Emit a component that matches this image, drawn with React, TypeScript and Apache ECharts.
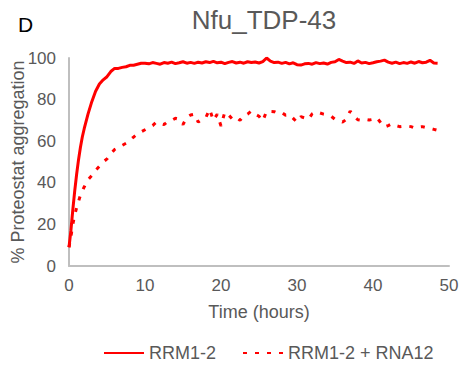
import React, { useEffect, useRef } from "react";
import * as echarts from "echarts";

const seriesNames = ["RRM1-2", "RRM1-2 + RNA12"];

const timeEarly = [0, 0.25, 0.5, 0.75, 1, 1.25, 1.5, 1.75, 2, 2.5, 3, 3.5, 4, 4.5, 5, 5.5, 6, 6.5, 7, 7.5, 8, 8.5, 9, 9.5];
const solidEarly = [9, 17, 27, 36, 44, 51, 57, 62, 66, 73, 79, 84, 87.5, 89.5, 91, 93.5, 95, 95, 95.5, 95.8, 96.5, 96.5, 97, 97.5];
const dashedEarly = [9, 14, 20, 24.5, 28, 31, 34, 36, 38, 41.5, 43.5, 46, 48, 50, 51.5, 54, 56, 57, 58, 59, 60.5, 62, 63.5, 64.5];

const timeLate = [10, 10.5, 11, 11.5, 12, 12.5, 13, 13.5, 14, 14.5, 15, 15.5, 16, 16.5, 17, 17.5, 18, 18.5, 19, 19.5, 20, 20.5, 21, 21.5, 22, 22.5, 23, 23.5, 24, 24.5, 25, 25.5, 26, 26.5, 27, 27.5, 28, 28.5, 29, 29.5, 30, 30.5, 31, 31.5, 32, 32.5, 33, 33.5, 34, 34.5, 35, 35.5, 36, 36.5, 37, 37.5, 38, 38.5, 39, 39.5, 40, 40.5, 41, 41.5, 42, 42.5, 43, 43.5, 44, 44.5, 45, 45.5, 46, 46.5, 47, 47.5, 48, 48.5];
const solidLate = [97.5, 97.2, 97.8, 97.4, 97, 97.8, 97.5, 98, 97.3, 97.7, 98.2, 97.5, 97.9, 97.4, 98, 97.6, 98.2, 97.8, 98.4, 97.7, 98, 97.3, 97.9, 98.3, 97.6, 98, 97.5, 98.2, 97.8, 98.1, 97.6, 98.3, 100, 98.5, 97.8, 98, 97.4, 97.9, 97.2, 97.7, 96.8, 96.6, 97.2, 97.4, 97, 97.8, 97.3, 97.6, 97.1, 97.9, 98.2, 99.3, 98.5, 97.8, 98, 97.4, 98.6, 97.6, 97.9, 97.3, 97.7, 98.2, 98.5, 99, 98, 97.5, 98, 97.3, 97.8, 97.4, 98.1, 97.5, 98.3, 97.7, 98, 98.9, 97.6, 97.5];
const dashedLate = [65.5, 66.5, 67.5, 69.2, 68.5, 68, 69.5, 70, 71, 70.5, 68, 71.5, 72.6, 73, 69.2, 70.5, 71.3, 75.4, 70, 73, 67.3, 74, 72.6, 70.6, 71.5, 70, 72.3, 73, 74.5, 73, 72, 69.7, 74.5, 74.3, 74.2, 73.4, 73.8, 72.5, 72.8, 71, 69.2, 71.8, 71.2, 70.5, 73.2, 74.2, 73.6, 73, 72.6, 72, 70.5, 70, 69.2, 70.5, 74.5, 72, 70.3, 70, 70.5, 70.2, 70.5, 71.3, 69, 66.8, 67.5, 68.4, 67.5, 67, 67.2, 67.3, 67, 66.3, 66.8, 67, 66.5, 66.2, 65.7, 65.2];

const xTicks = { min: 0, max: 50, interval: 10 };
const yTicks = { min: 0, max: 100, interval: 20 };

const times = [...timeEarly, ...timeLate];
const solidValues = [...solidEarly, ...solidLate];
const dashedValues = [...dashedEarly, ...dashedLate];

export default function App() {
  const ref = useRef<HTMLDivElement>(null);
  useEffect(() => {
    document.body.style.margin = "0";
    if (!ref.current) return;
    const chart = echarts.init(ref.current, undefined, { renderer: "svg" });
    const font = "Liberation Sans, Arial, sans-serif";
    const gray = "#595959";
    chart.setOption({
      animation: false,
      textStyle: { fontFamily: font },
      title: {
        text: "Nfu_TDP-43",
        left: 259,
        textAlign: "center",
        top: 2,
        textStyle: { fontFamily: font, fontSize: 26, fontWeight: "normal", color: gray },
      },
      graphic: [
        {
          type: "text",
          left: 18,
          top: 14,
          style: { text: "D", font: `21px ${font}`, fill: "#000" },
        },
      ],
      grid: { left: 69, right: 14, top: 58, bottom: 102, containLabel: false, outerBoundsMode: "none" },
      legend: {
        bottom: 1,
        left: 98,
        itemWidth: 40,
        itemHeight: 12,
        itemGap: 26,
        itemStyle: { opacity: 0 },
        textStyle: { fontFamily: font, fontSize: 18, color: gray },
        data: seriesNames,
      },
      xAxis: {
        type: "value",
        ...xTicks,
        name: "Time (hours)",
        nameLocation: "middle",
        nameGap: 37,
        nameMoveOverlap: false,
        nameTextStyle: { fontFamily: font, fontSize: 18, color: gray },
        axisLine: { show: true, lineStyle: { color: "#BFBFBF", width: 2 } },
        axisTick: { show: false },
        splitLine: { show: false },
        axisLabel: { fontFamily: font, fontSize: 17, color: gray, margin: 11 },
      },
      yAxis: {
        type: "value",
        ...yTicks,
        name: "% Proteostat aggregation",
        nameLocation: "middle",
        nameGap: 42,
        nameMoveOverlap: false,
        nameTextStyle: { fontFamily: font, fontSize: 18, color: gray },
        axisLine: { show: true, lineStyle: { color: "#BFBFBF", width: 2 } },
        axisTick: { show: false },
        splitLine: { show: false },
        axisLabel: { fontFamily: font, fontSize: 17, color: gray, margin: 13 },
      },
      series: [
        {
          name: seriesNames[0],
          type: "line",
          symbol: "none",
          data: times.map((t, i) => [t, solidValues[i]]),
          lineStyle: { color: "#FF0000", width: 3 },
          itemStyle: { color: "#FF0000" },
        },
        {
          name: seriesNames[1],
          type: "line",
          symbol: "none",
          data: times.map((t, i) => [t, dashedValues[i]]),
          lineStyle: { color: "#FF0000", width: 3, type: [4, 8] },
          itemStyle: { color: "#FF0000" },
        },
      ],
    });
    return () => chart.dispose();
  }, []);
  return <div ref={ref} style={{ width: 463, height: 368 }} />;
}
